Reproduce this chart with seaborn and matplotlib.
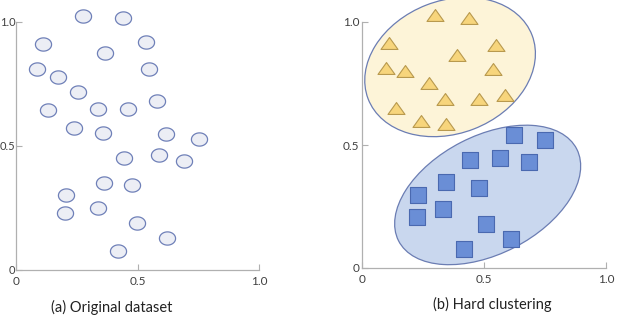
import numpy as np
import pandas as pd
import matplotlib
matplotlib.use('Agg')
import matplotlib.pyplot as plt
from matplotlib.path import Path
from matplotlib.patches import Ellipse
import seaborn as sns

sns.set_theme(style='white')
plt.rcParams['font.family'] = ['Lato', 'DejaVu Sans']

# (a) original dataset
orig_x = [0.274, 0.439, 0.110, 0.535, 0.365, 0.086, 0.547, 0.172, 0.254, 0.580,
          0.132, 0.337, 0.462, 0.237, 0.358, 0.616, 0.752, 0.443, 0.588, 0.690,
          0.363, 0.477, 0.206, 0.339, 0.200, 0.498, 0.620, 0.421]
orig_y = [1.025, 1.015, 0.912, 0.918, 0.874, 0.810, 0.809, 0.779, 0.719, 0.680,
          0.644, 0.649, 0.650, 0.573, 0.551, 0.549, 0.528, 0.453, 0.462, 0.441,
          0.351, 0.342, 0.301, 0.250, 0.228, 0.189, 0.129, 0.078]

# (b) hard clustering
tri_x = [0.298, 0.437, 0.109, 0.548, 0.388, 0.097, 0.176, 0.538, 0.275, 0.585,
         0.340, 0.480, 0.141, 0.241, 0.346]
tri_y = [1.028, 1.017, 0.913, 0.907, 0.865, 0.812, 0.800, 0.809, 0.751, 0.705,
         0.686, 0.687, 0.650, 0.599, 0.585]
sq_x = [0.622, 0.751, 0.441, 0.567, 0.684, 0.344, 0.478, 0.231, 0.332, 0.227,
        0.507, 0.611, 0.417]
sq_y = [0.541, 0.519, 0.438, 0.447, 0.430, 0.348, 0.327, 0.297, 0.239, 0.207,
        0.178, 0.119, 0.078]

# cluster outlines: centre x, centre y, width, height, angle
clusters = ['yellow', 'blue']
ell_x = [0.361, 0.515]
ell_y = [0.817, 0.297]
ell_w = [0.72, 0.82]
ell_h = [0.54, 0.48]
ell_angle = [21, 27]
ell_fill = ['#fdf4d8', '#c9d7ee']

ticks = [0, 0.5, 1.0]
tick_labels = ['0', '0.5', '1.0']
captions = ['(a) Original dataset', '(b) Hard clustering']

# flattened marker shapes
t = np.linspace(0, 2 * np.pi, 60)
oval = Path(np.column_stack([np.cos(t), 0.82 * np.sin(t)]))
flat_tri = Path([(0, 0.7), (-1, -0.7), (1, -0.7), (0, 0.7)], closed=True)

fig = plt.figure(figsize=(6.18, 3.2), dpi=100)
W, H = 618, 320
ax1 = fig.add_axes([16 / W, (H - 270) / H, 243 / W, 248 / H])
ax2 = fig.add_axes([362 / W, (H - 268) / H, 244 / W, 246 / H])

df_a = pd.DataFrame({'x': orig_x, 'y': orig_y})
sns.scatterplot(data=df_a, x='x', y='y', ax=ax1, marker=oval, s=135,
                color='#eceef5', edgecolor='#6f80b8', linewidth=0.9,
                clip_on=False, zorder=3)

for i in range(len(clusters)):
    ax2.add_patch(Ellipse((ell_x[i], ell_y[i]), ell_w[i], ell_h[i], angle=ell_angle[i],
                          facecolor=ell_fill[i], edgecolor='#6b7db3', linewidth=0.9,
                          clip_on=False, zorder=1))

df_t = pd.DataFrame({'x': tri_x, 'y': tri_y})
df_s = pd.DataFrame({'x': sq_x, 'y': sq_y})
sns.scatterplot(data=df_t, x='x', y='y', ax=ax2, marker=flat_tri, s=150,
                color='#f7d57c', edgecolor='#b8994e', linewidth=0.8,
                clip_on=False, zorder=3)
sns.scatterplot(data=df_s, x='x', y='y', ax=ax2, marker='s', s=118,
                color='#6a8ed6', edgecolor='#4a69b0', linewidth=0.8,
                clip_on=False, zorder=3)

cap_pos = [0.394, 0.533]
for ax, cap, cx in zip([ax1, ax2], captions, cap_pos):
    ax.set_xlim(0, 1)
    ax.set_ylim(0, 1)
    ax.set_xticks(ticks)
    ax.set_yticks(ticks)
    ax.set_xticklabels(tick_labels)
    ax.set_yticklabels(tick_labels)
    ax.set_xlabel('')
    ax.set_ylabel('')
    for side in ['top', 'right']:
        ax.spines[side].set_visible(False)
    for side in ['left', 'bottom']:
        ax.spines[side].set_color('#b0b0b0')
        ax.spines[side].set_linewidth(0.9)
    ax.tick_params(direction='in', length=4, width=0.8, color='#b0b0b0',
                   labelsize=8.5, labelcolor='#404040', bottom=True, left=True)
    ax.tick_params(axis='x', pad=4)
    ax.tick_params(axis='y', pad=2)
    ax.patch.set_alpha(0)
    ax.text(cx, -0.15, cap, transform=ax.transAxes, ha='center', va='center',
            fontsize=10.5, color='#222222')

# keep the left panel's y labels inside the figure edge
ax1.tick_params(axis='y', pad=0.5, labelsize=8)

fig.savefig('out.png', dpi=100)
